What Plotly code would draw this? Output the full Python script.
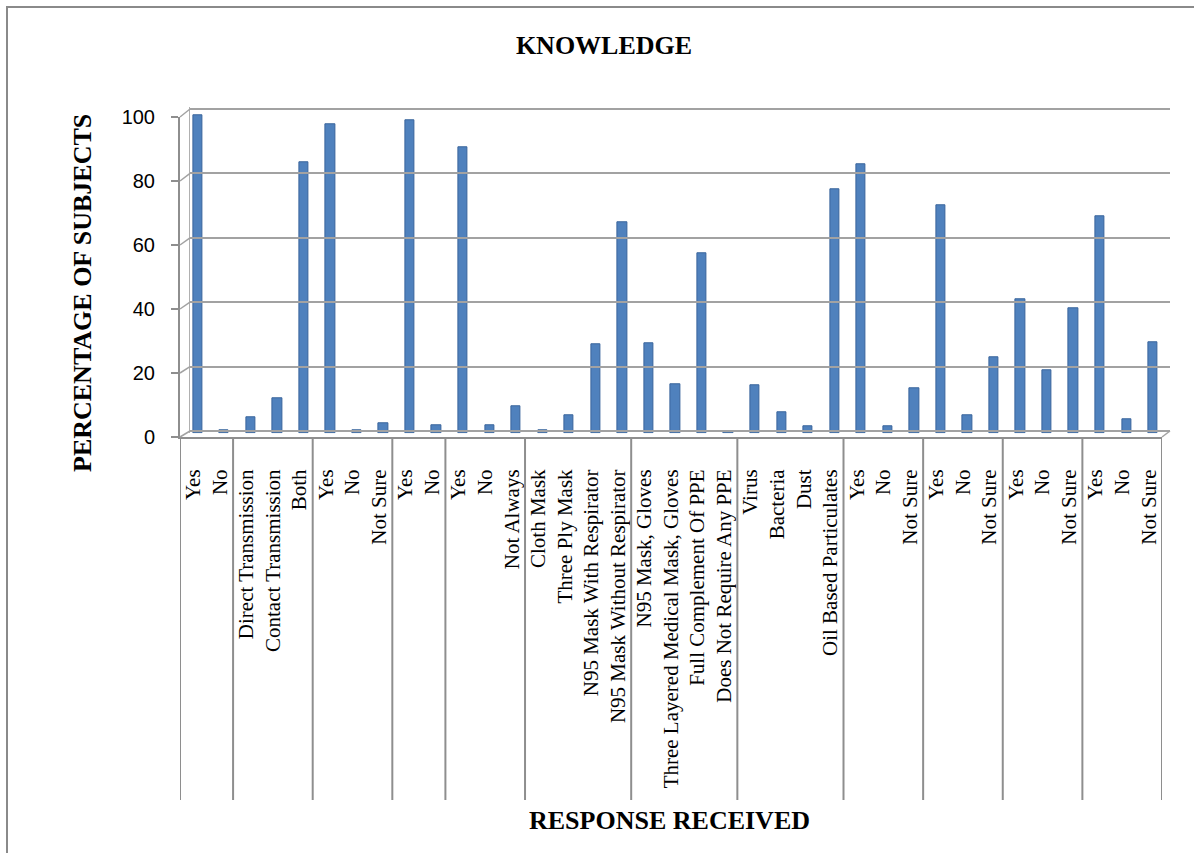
import plotly.graph_objects as go

# ---- data -------------------------------------------------------------
group_sizes = [2, 3, 3, 2, 3, 4, 4, 4, 3, 3, 3, 3]

responses = [
    "Yes", "No",
    "Direct Transmission", "Contact Transmission", "Both",
    "Yes", "No", "Not Sure",
    "Yes", "No",
    "Yes", "No", "Not Always",
    "Cloth Mask", "Three Ply Mask", "N95 Mask With Respirator", "N95 Mask Without Respirator",
    "N95 Mask, Gloves", "Three Layered Medical Mask, Gloves", "Full Complement Of PPE",
    "Does Not Require Any PPE",
    "Virus", "Bacteria", "Dust", "Oil Based Particulates",
    "Yes", "No", "Not Sure",
    "Yes", "No", "Not Sure",
    "Yes", "No", "Not Sure",
    "Yes", "No", "Not Sure",
]

percentages = [
    100, 1,
    5, 11, 85,
    97, 1, 3.3,
    98.5, 2.6,
    90, 2.5, 8.6,
    1, 5.7, 28, 66.3,
    28.3, 15.5, 56.6, 0.7,
    15.2, 6.6, 2.3, 76.7,
    84.6, 2.3, 14.2,
    71.6, 5.8, 23.8,
    42.1, 19.7, 39.3,
    68.1, 4.4, 28.5,
]

y_ticks = [0, 20, 40, 60, 80, 100]

# ---- page geometry (pixels) -------------------------------------------
W, H = 1194, 853
n = len(responses)


def fx(px):
    return px / W


def fy(py):
    return 1 - py / H


def y_domain(r0, r1, v0, p0, v1, p1):
    """Domain for a y axis with range [r0, r1] putting v0 at pixel p0 and v1 at p1."""
    s = (p0 - p1) / (v1 - v0)
    bottom = p0 + (v0 - r0) * s
    top = p0 - (r1 - v0) * s
    return [fy(bottom), fy(top)], (lambda v: p0 - (v - v0) * s)


# front face of the 3-D box (labelled axes)
FRONT_L, FRONT_R = 180, 1162
front_dom, front_y = y_domain(0, 100, 0, 437, 100, 117)
# back wall (gridlines)
BACK_L, BACK_R = 190, 1170
back_range = [-0.6, 100.6]
back_dom, back_y = y_domain(back_range[0], back_range[1], 0, 431, 100, 109)
# middle depth (columns)
MID_L, MID_R = 184.4, 1166.4
bar_range = [0, 104]
bar_dom, _ = y_domain(bar_range[0], bar_range[1], 0, 433.3, 100, 115)

xr = [-0.5, n - 0.5]
idx = list(range(n))

serif = "Times New Roman, Liberation Serif, serif"
sans = "Arial, Liberation Sans, sans-serif"
grey = "#8e8e8e"

fig = go.Figure()

# columns
fig.add_trace(go.Bar(
    x=idx, y=percentages, xaxis="x", yaxis="y",
    width=0.35,
    marker=dict(color="#4f81bd", line=dict(color="#3a659c", width=1)),
    showlegend=False, hoverinfo="skip",
))
# anchors for the front and back subplots
fig.add_trace(go.Scatter(x=idx, y=percentages, xaxis="x2", yaxis="y2",
                         mode="none", showlegend=False, hoverinfo="skip"))
fig.add_trace(go.Scatter(x=idx, y=percentages, xaxis="x3", yaxis="y3",
                         mode="none", showlegend=False, hoverinfo="skip"))

hidden = dict(showgrid=False, zeroline=False, showline=False, showticklabels=False,
              ticks="", automargin=False)

fig.update_layout(
    width=W, height=H,
    margin=dict(l=0, r=0, t=0, b=0, pad=0, autoexpand=False),
    paper_bgcolor="white", plot_bgcolor="rgba(0,0,0,0)",
    bargap=0,
    # columns
    xaxis=dict(domain=[fx(MID_L), fx(MID_R)], range=xr, anchor="y", **hidden),
    yaxis=dict(domain=bar_dom, range=bar_range, anchor="x", **hidden),
    # front face: category labels and value labels
    xaxis2=dict(
        domain=[fx(FRONT_L), fx(FRONT_R)], range=xr, anchor="y2",
        tickmode="array", tickvals=idx, ticktext=responses, tickangle=-90,
        tickfont=dict(family=serif, size=21, color="black"),
        ticks="", ticklabelstandoff=22, automargin=False,
        showline=True, linecolor=grey, linewidth=2,
        showgrid=False, zeroline=False,
    ),
    yaxis2=dict(
        domain=front_dom, range=[0, 100], anchor="x2",
        tickmode="array", tickvals=y_ticks,
        tickfont=dict(family=sans, size=20, color="black"),
        ticks="outside", ticklen=7, tickwidth=2, tickcolor=grey,
        ticklabelstandoff=12, automargin=False,
        showline=True, linecolor=grey, linewidth=2,
        showgrid=False, zeroline=False,
    ),
    # back wall: horizontal gridlines
    xaxis3=dict(domain=[fx(BACK_L), fx(BACK_R)], range=xr, anchor="y3", **hidden),
    yaxis3=dict(
        domain=back_dom, range=back_range, anchor="x3",
        tickmode="array", tickvals=y_ticks, showticklabels=False, ticks="",
        showgrid=True, gridcolor="#a2a2a2", gridwidth=2, automargin=False,
        showline=True, linecolor="#b0b0b0", linewidth=1, zeroline=False,
    ),
    title=dict(
        text="<b>KNOWLEDGE</b>", x=fx(604), y=fy(45), xanchor="center", yanchor="middle",
        font=dict(family=serif, size=26, color="black"),
    ),
)

# axis titles
fig.add_annotation(
    text="<b>PERCENTAGE OF SUBJECTS</b>", textangle=-90,
    xref="paper", yref="paper", x=fx(82), y=fy(293),
    xanchor="center", yanchor="middle", showarrow=False,
    font=dict(family=serif, size=26, color="black"),
)
fig.add_annotation(
    text="<b>RESPONSE RECEIVED</b>",
    xref="paper", yref="paper", x=fx(670), y=fy(820),
    xanchor="center", yanchor="middle", showarrow=False,
    font=dict(family=serif, size=26, color="black"),
)

shapes = []
# group dividers below the category axis
bounds = [-0.5]
for g in group_sizes:
    bounds.append(bounds[-1] + g)
for b in bounds:
    shapes.append(dict(type="line", xref="x2", yref="paper", x0=b, x1=b,
                       y0=fy(437), y1=fy(800), line=dict(color=grey, width=2)))
# side wall: joins front ticks to back gridlines
for v in y_ticks:
    shapes.append(dict(type="line", xref="paper", yref="paper",
                       x0=fx(FRONT_L), y0=fy(front_y(v)), x1=fx(BACK_L), y1=fy(back_y(v)),
                       line=dict(color="#a2a2a2", width=1.5)))
# floor edge on the right
shapes.append(dict(type="line", xref="paper", yref="paper",
                   x0=fx(FRONT_R), y0=fy(front_y(0)), x1=fx(BACK_R), y1=fy(back_y(0)),
                   line=dict(color="#a2a2a2", width=1.5)))
# chart frame
shapes.append(dict(type="rect", xref="paper", yref="paper",
                   x0=fx(7), y0=-0.02, x1=1.02, y1=fy(7),
                   line=dict(color="#8a8a8a", width=2)))
fig.update_layout(shapes=shapes)

fig.write_html("out.html")
